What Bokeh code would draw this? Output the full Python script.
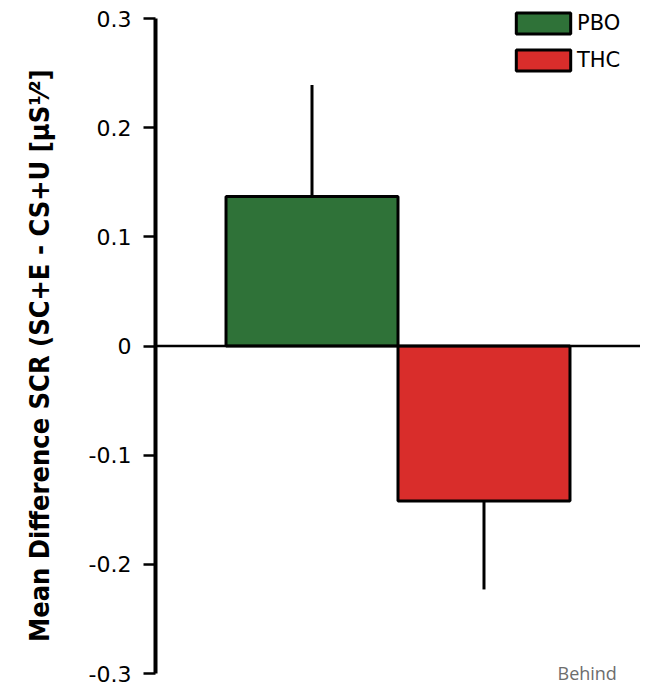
from bokeh.plotting import figure
from bokeh.models import (ColumnDataSource, FactorRange, Span, Legend, LegendItem,
                          FixedTicker, Label)
from bokeh.embed import file_html
from bokeh.resources import INLINE

groups = ["PBO", "THC"]
means = [0.137, -0.142]
sems = [0.102, 0.081]
colors = ["#2f7238", "#d92d2b"]
tick_values = [-0.3, -0.2, -0.1, 0.0, 0.1, 0.2, 0.3]
tick_labels = ["-0.3", "-0.2", "-0.1", "0", "0.1", "0.2", "0.3"]

err_end = [m + s if m >= 0 else m - s for m, s in zip(means, sems)]
src = ColumnDataSource(dict(g=groups, m=means, c=colors, e=err_end))

# layout: frame fills the canvas height; axis drawn only between -0.3 and 0.3
H = 686
top_px, bottom_px = 18, 673          # pixel rows of 0.3 and -0.3
ymin, ymax = min(tick_values), max(tick_values)
scale = (bottom_px - top_px) / (ymax - ymin)
y_end = ymax + top_px / scale
y_start = ymin - (H - bottom_px) / scale

p = figure(width=640, height=H, output_backend="svg", toolbar_location=None,
           x_range=FactorRange(*groups, range_padding=0.41, range_padding_units="absolute"),
           y_range=(y_start, y_end), min_border_left=155, min_border_right=0,
           min_border_top=0, min_border_bottom=0)
p.outline_line_color = None
p.grid.visible = False
p.xaxis.visible = False
p.background_fill_color = "white"

# error bars
p.segment(x0="g", x1="g", y0="m", y1="e", source=src, line_color="black", line_width=3)

r = p.vbar(x="g", top="m", bottom=0, width=1.0, source=src, fill_color="c",
           line_color="black", line_width=3)

p.add_layout(Span(location=0, dimension="width", line_color="black", line_width=2.5))

ax = p.yaxis[0]
ax.bounds = (ymin, ymax)
ax.ticker = FixedTicker(ticks=tick_values)
ax.major_label_overrides = {v: l for v, l in zip(tick_values, tick_labels)}
ax.minor_tick_line_color = None
ax.major_tick_out = 12
ax.major_tick_in = 0
ax.major_tick_line_width = 2.5
ax.axis_line_width = 4
ax.major_label_text_font = "DejaVu Sans"
ax.major_label_text_font_size = "22px"
ax.major_label_text_color = "black"
ax.major_label_standoff = 12
ax.axis_label = "Mean Difference SCR (SC+E - CS+U [µS¹⁄²]\u2003"
ax.axis_label_text_font = "DejaVu Sans Condensed"
ax.axis_label_text_font_style = "bold"
ax.axis_label_text_font_size = "27px"
ax.axis_label_text_color = "black"
ax.axis_label_standoff = 31

legend = Legend(items=[LegendItem(label=g, renderers=[r], index=i) for i, g in enumerate(groups)],
                location=(354, 613), orientation="vertical",
                glyph_width=68, glyph_height=26, label_height=26, spacing=11,
                padding=0, margin=0, label_standoff=0,
                label_text_font="DejaVu Sans", label_text_font_size="21px",
                label_text_color="black",
                border_line_color=None, background_fill_alpha=0)
p.add_layout(legend, "center")

p.add_layout(Label(x=402, y=2, x_units="screen", y_units="screen", text="Behind",
                   text_font="Open Sans", text_font_size="18px", text_color="#6d6d6d",
                   text_baseline="bottom"))

open("out.html", "w").write(file_html(p, INLINE))
